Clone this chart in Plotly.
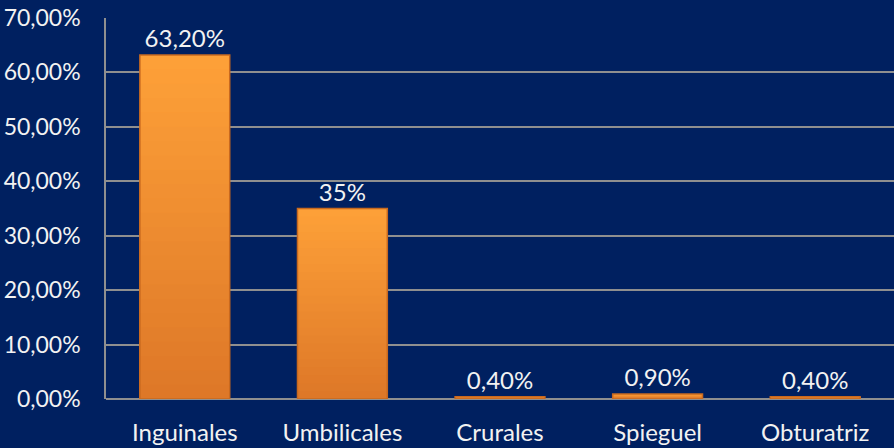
import plotly.graph_objects as go

categories = ["Inguinales", "Umbilicales", "Crurales", "Spieguel", "Obturatriz"]
values = [0.632, 0.35, 0.004, 0.009, 0.004]
value_labels = ["63,20%", "35%", "0,40%", "0,90%", "0,40%"]

bg = "#002060"
text_color = "#f2f2f2"
grid_color = "#8f8f8f"
font_family = "Lato, 'Open Sans', sans-serif"
font_size = 24
bar_width = 0.57

top_rgb = (253, 160, 56)
bottom_rgb = (222, 120, 40)
steps = 24


def blend(t):
    r, g, b = (round(a + (c - a) * t) for a, c in zip(top_rgb, bottom_rgb))
    return f"rgb({r},{g},{b})"


fig = go.Figure()

# vertical shading: progressively shorter bars overlaid, darker toward the base
for k in range(steps):
    frac = (steps - k) / steps
    fig.add_trace(go.Bar(
        x=categories,
        y=[v * frac for v in values],
        marker=dict(color=blend(k / (steps - 1)), line=dict(width=0)),
        width=bar_width,
        hoverinfo="skip",
    ))

# outline and value labels
fig.add_trace(go.Bar(
    x=categories,
    y=values,
    text=value_labels,
    textposition="outside",
    cliponaxis=False,
    textfont=dict(color=text_color, size=font_size, family=font_family),
    marker=dict(color="rgba(0,0,0,0)", line=dict(color="#c8691f", width=1.5)),
    width=bar_width,
    hoverinfo="skip",
))

fig.update_layout(
    width=894,
    height=448,
    paper_bgcolor=bg,
    plot_bgcolor=bg,
    margin=dict(l=106, r=0, t=18, b=49),
    separators=",.",
    showlegend=False,
    barmode="overlay",
    font=dict(family=font_family, color=text_color, size=font_size),
)
fig.update_xaxes(
    showgrid=False,
    showline=False,
    ticks="",
    tickfont=dict(size=font_size, color=text_color),
    ticklabelstandoff=17,
)
fig.update_yaxes(
    range=[0, 0.7],
    tickvals=[0, 0.1, 0.2, 0.3, 0.4, 0.5, 0.6, 0.7],
    tickformat=".2%",
    showgrid=True,
    gridcolor=grid_color,
    gridwidth=1.5,
    showline=True,
    linecolor=grid_color,
    linewidth=1.5,
    zeroline=True,
    zerolinecolor=grid_color,
    zerolinewidth=1.5,
    ticks="",
    tickfont=dict(size=23, color=text_color),
    ticklabelstandoff=19,
)

fig.write_html("out.html")
